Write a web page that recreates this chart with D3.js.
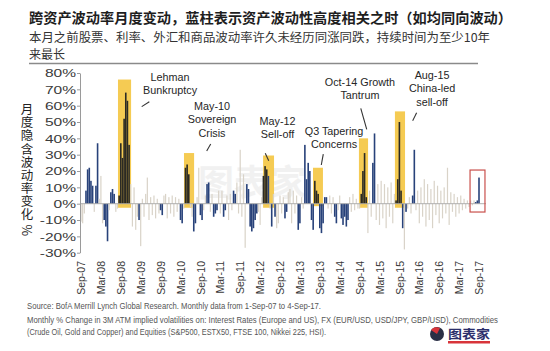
<!DOCTYPE html>
<html>
<head>
<meta charset="utf-8">
<script src="https://cdn.jsdelivr.net/npm/d3@7"></script>
<style>
body { margin: 0; background: #fff; }
svg { display: block; font-family: "Liberation Sans", Arial, sans-serif; }
.cn { font-family: "Noto Sans CJK SC", "Noto Sans", sans-serif; }
</style>
</head>
<body>
<svg width="550" height="351"></svg>
<script>
// half-monthly change in implied vol (%), Sep-07 .. Sep-17, one row per half year
const xLabels = ['Sep-07','Mar-08','Sep-08','Mar-09','Sep-09','Mar-10','Sep-10','Mar-11','Sep-11','Mar-12',
  'Sep-12','Mar-13','Sep-13','Mar-14','Sep-14','Mar-15','Sep-15','Mar-16','Sep-16','Mar-17','Sep-17']

const vols = [
  -11,-12,-6,8,21,22,14,11,-5,11,37,3,
  17,-12,-10,-14,-23,-4,7,9,6,-5,-3,5,
  37,28,52,68,63,36,12,-14,10,-16,-8,-10,
  -26,3,-8,6,16,-10,4,-7,5,-9,3,-6,
  -4,-7,5,6,-9,4,-6,5,-8,4,-5,3,
  -10,-12,-3,22,24,18,-2,-8,-17,-12,4,22,
  -7,-10,-4,5,12,13,-5,6,-8,-6,-4,8,
  -6,8,-8,-4,5,-10,6,-4,8,6,13,-6,
  33,-8,18,-27,12,9,-14,-17,-15,-10,-6,-5,
  -13,4,17,23,21,17,-3,-14,6,-8,-15,-12,
  5,-6,4,-9,-5,7,9,-12,8,-6,5,-16,
  -12,4,-3,36,15,25,20,-10,-16,14,8,6,
  -15,-18,-12,4,4,-3,5,-6,4,-8,-12,-4,
  5,-9,-13,-8,-14,-10,4,-5,6,-4,3,-3,
  -3,6,20,31,4,-18,8,-8,25,43,-10,12,
  -13,14,-9,12,-15,10,-8,13,-12,6,2,15,
  50,8,-15,-28,-5,-3,4,-6,5,33,-4,8,
  -12,10,-8,15,-14,12,-10,9,-15,14,-7,11,
  -12,8,-9,10,-6,22,-13,7,-5,6,-8,4,
  -6,5,-4,3,-3,2,-2,2,-1,2,1,2,
  16
]

// g = not correlated, n = correlated, k = correlated inside a highlighted episode
const kinds = [
  'gggnnnnngnng','ggnnngnnnggk','kkkkkkgggggn','gggggggggggg','nngggggggggg',
  'nngkkkggnngg','nnggnnggnnng','ggnnggggnngg','ggggnnnnnnng','ggkkkngngngg',
  'gggnnggggggn','nggnnnnnnkkk','nnnnnggggnng','gnnnnngggggg','gkkkkgggnngg',
  'ggggggggggkk','kkngngggnngg','gggggggggggg','gggggggggggg','ggggggggggnn','n'
].join('').split('')

// highlighted episodes (bar index range, value range)
const boxStart = [22.3, 62.1, 109.8, 139.9, 167.6, 189.3]
const boxEnd = [30.2, 68.2, 116.4, 145.9, 173.1, 195.4]
const boxTop = [76, 31, 29.5, 22, 40, 56.5]
const boxBottom = [-2.5, -2.5, -2.5, -1.5, -2.5, -2.5]

const noteText = [
  ['Lehman', 'Bunkruptcy'],
  ['May-10', 'Sovereign', 'Crisis'],
  ['May-12', 'Sell-off'],
  ['Q3 Tapering', 'Concerns'],
  ['Oct-14 Growth', 'Tantrum'],
  ['Aug-15', 'China-led', 'sell-off']
]
const noteIdx = [53.7, 79, 118.5, 152.6, 168.2, 211.7]
const noteVal = [77.6, 59.8, 50.6, 44.5, 74.5, 78.8]
const pointerFrom = [[41.2, 62.4], [78.2, 36.5], [111.1, 30.9], [146.1, 30.4], [168.7, 58.4], [202.4, 55.7]]
const pointerTo = [[36.6, 59.4], [75.8, 32.3], [113.2, 26.3], [144.9, 23.7], [172.3, 45.5], [200, 50.8]]

const yTicks = [-30, -20, -10, 0, 10, 20, 30, 40, 50, 60, 70, 80]
const yTitle = '月度隐含波动率变化 %'

const colors = { g: '#d9d3c8', n: '#28427a', k: '#2b2a24' }

let svg = d3.select('svg')

let x = d3.scaleLinear()
  .domain([0, vols.length - 1])
  .range([81, 479])

let y = d3.scaleLinear()
  .domain([-30, 80])
  .range([252.7, 73])

// title
svg.append('text')
  .attr('class', 'cn')
  .attr('x', 29).attr('y', 23)
  .attr('font-size', 14).attr('font-weight', 'bold')
  .attr('fill', '#1e1e1e')
  .attr('textLength', 483).attr('lengthAdjust', 'spacingAndGlyphs')
  .text('跨资产波动率月度变动，蓝柱表示资产波动性高度相关之时（如均同向波动）')

svg.append('text')
  .attr('class', 'cn')
  .attr('x', 29).attr('y', 41.5)
  .attr('font-size', 12).attr('fill', '#333')
  .attr('textLength', 461).attr('lengthAdjust', 'spacingAndGlyphs')
  .text('本月之前股票、利率、外汇和商品波动率许久未经历同涨同跌，持续时间为至少10年')

svg.append('text')
  .attr('class', 'cn')
  .attr('x', 29).attr('y', 59)
  .attr('font-size', 12).attr('fill', '#333')
  .text('来最长')

svg.append('line')
  .attr('x1', 29).attr('x2', 478)
  .attr('y1', 63.5).attr('y2', 63.5)
  .attr('stroke', '#8a8a8a').attr('stroke-width', 1.4)

// watermark
svg.append('text')
  .attr('class', 'cn')
  .attr('x', 252).attr('y', 196)
  .attr('text-anchor', 'middle')
  .attr('font-size', 36).attr('font-weight', 'bold')
  .attr('fill', '#e9e9e9').attr('opacity', 0.6)
  .text('图表家')

// highlight boxes
svg.selectAll('rect.box')
  .data(boxStart)
  .enter()
  .append('rect')
  .attr('class', 'box')
  .attr('x', (d) => x(d))
  .attr('width', (d, i) => x(boxEnd[i]) - x(d))
  .attr('y', (d, i) => y(boxTop[i]))
  .attr('height', (d, i) => y(boxBottom[i]) - y(boxTop[i]))
  .attr('fill', '#f4c540')
  .attr('opacity', 0.9)

// bars
svg.selectAll('rect.bar')
  .data(vols)
  .enter()
  .append('rect')
  .attr('class', 'bar')
  .attr('x', (d, i) => x(i) - (kinds[i] == 'g' ? 0.6 : 0.8))
  .attr('width', (d, i) => kinds[i] == 'g' ? 1.2 : 1.6)
  .attr('y', (d) => y(Math.max(0, d)))
  .attr('height', (d) => Math.abs(y(d) - y(0)))
  .attr('fill', (d, i) => colors[kinds[i]])

// zero line
svg.append('line')
  .attr('x1', 80).attr('x2', 486)
  .attr('y1', y(0)).attr('y2', y(0))
  .attr('stroke', '#a8a8a8').attr('stroke-width', 0.9)

// y axis
let yAxis = svg.append('g')
  .attr('transform', 'translate(80,0)')
  .call(d3.axisLeft(y).tickValues(yTicks).tickFormat((d) => d + '%').tickSize(3).tickSizeOuter(0))

yAxis.select('.domain').attr('stroke', '#9a9a9a')
yAxis.selectAll('.tick line').attr('stroke', '#9a9a9a')
yAxis.selectAll('text')
  .attr('x', -4)
  .attr('font-size', 11.5)
  .attr('font-family', '"Liberation Sans", Arial, sans-serif')
  .attr('fill', '#3a3a3a')
  .each(function() {
    let w = this.getComputedTextLength()
    d3.select(this).attr('textLength', w * 1.35).attr('lengthAdjust', 'spacingAndGlyphs')
  })

// y title, written vertically (the % turns sideways)
svg.append('text')
  .attr('class', 'cn')
  .attr('x', 27).attr('y', 170)
  .attr('font-size', 12.5)
  .attr('fill', '#222')
  .attr('text-anchor', 'middle')
  .style('writing-mode', 'vertical-rl')
  .style('text-orientation', 'mixed')
  .style('letter-spacing', '0.6px')
  .text(yTitle)

// x axis labels
let xAxis = svg.append('g')
  .attr('transform', 'translate(0,261)')
  .call(d3.axisBottom(x).tickValues(xLabels.map((d, i) => i * 12)).tickFormat((d) => xLabels[d / 12]).tickSize(0))

xAxis.select('.domain').remove()
xAxis.selectAll('text')
  .attr('transform', 'rotate(-90)')
  .attr('x', 0).attr('y', 0)
  .attr('dy', '0.35em')
  .attr('text-anchor', 'end')
  .attr('font-size', 10.5)
  .attr('font-family', '"Liberation Sans", Arial, sans-serif')
  .attr('fill', '#3a3a3a')

// annotations
let notes = svg.selectAll('g.note')
  .data(noteText)
  .enter()
  .append('g')
  .attr('class', 'note')

notes.selectAll('text')
  .data((d, i) => d.map((t, j) => ({ t: t, i: i, j: j })))
  .enter()
  .append('text')
  .attr('x', (d) => x(noteIdx[d.i]))
  .attr('y', (d) => y(noteVal[d.i]) + d.j * 13.4)
  .attr('dy', '0.35em')
  .attr('text-anchor', 'middle')
  .attr('font-size', 10.8)
  .attr('fill', '#262626')
  .text((d) => d.t)

notes.append('line')
  .attr('x1', (d, i) => x(pointerFrom[i][0]))
  .attr('y1', (d, i) => y(pointerFrom[i][1]))
  .attr('x2', (d, i) => x(pointerTo[i][0]))
  .attr('y2', (d, i) => y(pointerTo[i][1]))
  .attr('stroke', '#333')
  .attr('stroke-width', 1.1)

// latest month marker
svg.append('rect')
  .attr('x', x(234.6)).attr('y', y(20.6))
  .attr('width', x(243.6) - x(234.6))
  .attr('height', y(-5.1) - y(20.6))
  .attr('fill', 'none')
  .attr('stroke', '#c9504c')
  .attr('stroke-width', 1.2)

// footnotes
const foot = [
  ['Source: BofA Merrill Lynch Global Research. Monthly data from 1-Sep-07 to 4-Sep-17.', 309, 294],
  ['Monthly % Change in 3M ATM implied volatilities on: Interest Rates (Europe and US), FX (EUR/USD, USD/JPY, GBP/USD), Commodities', 323, 471],
  ['(Crude Oil, Gold and Copper) and Equities (S&P500, ESTX50, FTSE 100, Nikkei 225, HSI).', 335, 299]
]
svg.selectAll('text.foot')
  .data(foot)
  .enter()
  .append('text')
  .attr('class', 'foot')
  .attr('x', 27)
  .attr('y', (d) => d[1])
  .attr('font-size', 8.6)
  .attr('fill', '#555')
  .attr('textLength', (d) => d[2])
  .attr('lengthAdjust', 'spacingAndGlyphs')
  .text((d) => d[0])

// logo
svg.append('circle')
  .attr('cx', 437).attr('cy', 334).attr('r', 7)
  .attr('fill', '#2a2f45')
svg.append('path')
  .attr('d', 'M431,330 A7,7 0 0 1 440,328 L437,334 Z')
  .attr('fill', '#d8343a')
svg.append('text')
  .attr('class', 'cn')
  .attr('x', 448).attr('y', 339)
  .attr('font-size', 12.5).attr('font-weight', 'bold')
  .attr('fill', '#2b2f6b')
  .attr('textLength', 42).attr('lengthAdjust', 'spacingAndGlyphs')
  .text('图表家')
svg.append('rect')
  .attr('x', 448).attr('y', 341).attr('width', 42).attr('height', 2.5)
  .attr('fill', '#d8343a')
</script>
</body>
</html>
